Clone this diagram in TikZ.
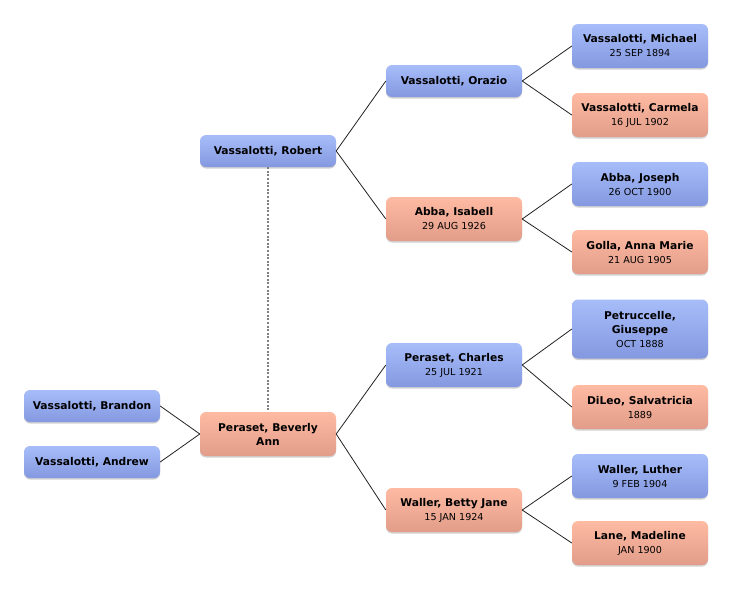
\documentclass[tikz,border=0pt]{standalone}
\usepackage{fontspec}
\setmainfont{DejaVu Sans}
\usetikzlibrary{shadows}
\definecolor{bluetop}{HTML}{A7BDF9}
\definecolor{bluebot}{HTML}{8498E0}
\definecolor{redtop}{HTML}{FEBAA2}
\definecolor{redbot}{HTML}{E29D8A}
\definecolor{linecol}{HTML}{222222}
\tikzset{
  person/.style={rounded corners=6pt, minimum width=136pt, inner sep=0pt,
    align=center, font=\fontsize{10.7}{14}\selectfont,
    drop shadow={shadow xshift=0pt, shadow yshift=-1.5pt, opacity=0.18, fill=black}},
  male/.style={person, top color=bluetop, bottom color=bluebot},
  female/.style={person, top color=redtop, bottom color=redbot},
  hA/.style={minimum height=32pt},
  hB/.style={minimum height=44pt},
  hC/.style={minimum height=59pt},
  link/.style={draw=linecol, line width=0.8pt},
  marriage/.style={draw=gray, line width=1.2pt, dash pattern=on 2pt off 1.6pt}
}
\newcommand{\nm}[1]{{\bfseries #1}}
\newcommand{\dt}[1]{{\fontsize{9.6}{11}\selectfont #1}}
\begin{document}
\begin{tikzpicture}[x=1pt,y=-1pt]
\useasboundingbox (0,0) rectangle (732,592);
% generation 4
\node[male,hB]   (michael)  at (640,46)  {\nm{Vassalotti, Michael}\\\dt{25 SEP 1894}};
\node[female,hB] (carmela)  at (640,115) {\nm{Vassalotti, Carmela}\\\dt{16 JUL 1902}};
\node[male,hB]   (joseph)   at (640,184) {\nm{Abba, Joseph}\\\dt{26 OCT 1900}};
\node[female,hB] (golla)    at (640,252) {\nm{Golla, Anna Marie}\\\dt{21 AUG 1905}};
\node[male,hC]   (giuseppe) at (640,329) {\nm{Petruccelle,}\\\nm{Giuseppe}\\\dt{OCT 1888}};
\node[female,hB] (dileo)    at (640,407) {\nm{DiLeo, Salvatricia}\\\dt{1889}};
\node[male,hB]   (luther)   at (640,476) {\nm{Waller, Luther}\\\dt{9 FEB 1904}};
\node[female,hB] (madeline) at (640,543) {\nm{Lane, Madeline}\\\dt{JAN 1900}};
% generation 3
\node[male,hA]   (orazio)   at (454,81)  {\nm{Vassalotti, Orazio}};
\node[female,hB] (isabell)  at (454,219) {\nm{Abba, Isabell}\\\dt{29 AUG 1926}};
\node[male,hB]   (charles)  at (454,365) {\nm{Peraset, Charles}\\\dt{25 JUL 1921}};
\node[female,hB] (betty)    at (454,510) {\nm{Waller, Betty Jane}\\\dt{15 JAN 1924}};
% generation 2
\node[male,hA]   (robert)   at (268,151) {\nm{Vassalotti, Robert}};
\node[female,hB] (beverly)  at (268,434) {\nm{Peraset, Beverly}\\\nm{Ann}};
% generation 1
\node[male,hA]   (brandon)  at (92,406)  {\nm{Vassalotti, Brandon}};
\node[male,hA]   (andrew)   at (92,462)  {\nm{Vassalotti, Andrew}};
% links
\draw[link] (orazio.east) -- (michael.west);
\draw[link] (orazio.east) -- (carmela.west);
\draw[link] (isabell.east) -- (joseph.west);
\draw[link] (isabell.east) -- (golla.west);
\draw[link] (charles.east) -- (giuseppe.west);
\draw[link] (charles.east) -- (dileo.west);
\draw[link] (betty.east) -- (luther.west);
\draw[link] (betty.east) -- (madeline.west);
\draw[link] (robert.east) -- (orazio.west);
\draw[link] (robert.east) -- (isabell.west);
\draw[link] (beverly.east) -- (charles.west);
\draw[link] (beverly.east) -- (betty.west);
\draw[link] (brandon.east) -- (beverly.west);
\draw[link] (andrew.east) -- (beverly.west);
\draw[marriage] (robert.south) -- (beverly.north);
\end{tikzpicture}
\end{document}
